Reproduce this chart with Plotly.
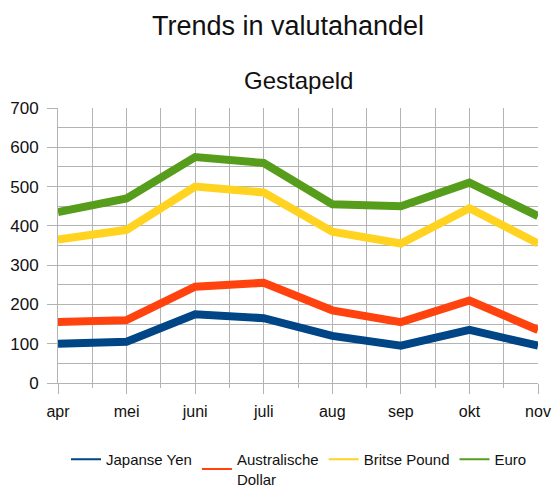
import plotly.graph_objects as go

months = ["apr", "mei", "juni", "juli", "aug", "sep", "okt", "nov"]
japanse_yen = [100, 105, 175, 165, 120, 95, 135, 95]
australische_dollar = [55, 55, 70, 90, 65, 60, 75, 40]
britse_pound = [210, 230, 255, 230, 200, 200, 235, 220]
euro = [70, 80, 75, 75, 70, 95, 65, 70]

series = [
    ("Japanse Yen", japanse_yen, "#004586"),
    ("Australische<br>Dollar", australische_dollar, "#ff420e"),
    ("Britse Pound", britse_pound, "#ffd320"),
    ("Euro", euro, "#579d1c"),
]

x = list(range(len(months)))
fig = go.Figure()
for name, vals, col in series:
    fig.add_trace(go.Scatter(
        x=x, y=vals, name=name, mode="lines", stackgroup="one", fill="none",
        line=dict(color=col, width=8), showlegend=False,
    ))
# thin legend swatches
for name, vals, col in series:
    fig.add_trace(go.Scatter(
        x=[None], y=[None], name=name, mode="lines",
        line=dict(color=col, width=2), showlegend=True,
    ))

font = "Liberation Sans, Arial, sans-serif"
grid = "#b3b3b3"
plot_top, plot_bottom = 108, 383
ph = plot_bottom - plot_top
pw = 554 - 58 - 16
fig.update_layout(
    width=554, height=493,
    margin=dict(l=58, r=16, t=plot_top, b=493 - plot_bottom, autoexpand=False),
    paper_bgcolor="white", plot_bgcolor="white",
    font=dict(family=font, size=16, color="#111111"),
    title=dict(text="Trends in valutahandel", x=288 / 554, xanchor="center",
               y=1 - 26 / 493, yanchor="middle", font=dict(size=27)),
    showlegend=True,
    legend=dict(orientation="h", x=(66 - 58) / pw, xanchor="left",
                y=(plot_bottom - 443) / ph, yanchor="top",
                font=dict(size=15), itemwidth=30, traceorder="normal",
                tracegroupgap=0),
    annotations=[dict(text="Gestapeld", x=(298 - 58) / pw, xref="paper",
                      xanchor="center",
                      y=(plot_bottom - 80) / ph, yref="paper", yanchor="middle",
                      showarrow=False, font=dict(size=24))],
)
fig.update_xaxes(
    range=[0, 7], tickvals=x, ticktext=months, showgrid=True, gridcolor=grid,
    gridwidth=1, showline=True, linecolor=grid, ticks="outside", ticklen=10,
    tickcolor=grid, zeroline=False, ticklabelstandoff=4,
    tickfont=dict(size=16),
    minor=dict(dtick=0.5, tick0=0, showgrid=True, gridcolor=grid, ticks="outside",
               ticklen=4, tickcolor=grid),
)
fig.update_yaxes(
    range=[0, 700], dtick=100, showgrid=True, gridcolor=grid, gridwidth=1,
    showline=True, linecolor=grid, ticks="outside", ticklen=10, tickcolor=grid,
    zeroline=False, ticklabelstandoff=5, tickfont=dict(size=17),
    minor=dict(dtick=50, showgrid=True, gridcolor=grid),
)
fig.write_html("out.html", config={"displayModeBar": False},
               post_script="document.body.style.margin='0';document.body.style.overflow='hidden';")
